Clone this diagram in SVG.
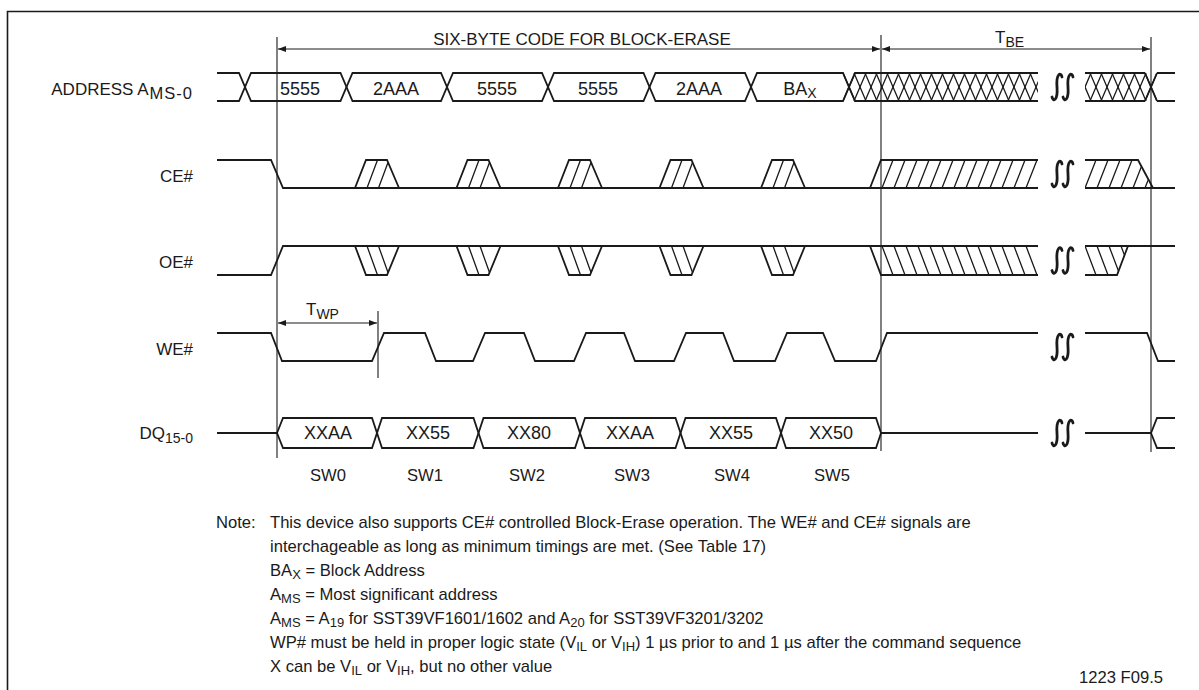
<svg xmlns="http://www.w3.org/2000/svg" width="1199" height="690" viewBox="0 0 1199 690">
<style>
.sig{fill:none;stroke:#1a1a1a;stroke-width:1.8;stroke-linejoin:miter}
.hat{fill:none;stroke:#1a1a1a;stroke-width:1.3}
.ref{fill:none;stroke:#1a1a1a;stroke-width:1.1}
.arr{fill:none;stroke:#1a1a1a;stroke-width:1;marker-start:url(#ah);marker-end:url(#ah)}
.brk{fill:none;stroke:#1a1a1a;stroke-width:2.8;stroke-linecap:round}
text{font-family:"Liberation Sans",Arial,sans-serif;fill:#1a1a1a}
.lbl{font-size:17px}
.val{font-size:18px;text-anchor:middle}
.note{font-size:16.6px}
.sub{font-size:14px}
.asub{font-size:16.5px;letter-spacing:1px}
.nsub{font-size:13px}
</style>
<defs>
<marker id="ah" viewBox="0 0 8 6" refX="8" refY="3" markerWidth="8" markerHeight="6" markerUnits="userSpaceOnUse" orient="auto-start-reverse"><path d="M0,0 L8,3 L0,6 z" fill="#1a1a1a"/></marker>
<g id="cep"><path class="sig" d="M0,28 L11,0 H32 L44,28"/><path class="hat" d="M12,28 L22.5,0 M23.5,28 L33,2.5"/></g>
<g id="oep"><path class="sig" d="M0,0 L11,29 H32 L44,0"/><path class="hat" d="M12,0 L22.5,29 M23.5,0 L33,26.5"/></g>
<path id="ss" class="brk" d="M-5,10 C-4,15 1,14 0,0 C-1,-14 4,-15 5,-10"/>
<clipPath id="cA1"><rect x="843" y="70" width="195" height="34"/></clipPath>
<clipPath id="cA2"><rect x="1085" y="70" width="72" height="34"/></clipPath>
<clipPath id="cC1"><rect x="870" y="157" width="168" height="34"/></clipPath>
<clipPath id="cC2"><polygon points="1085,158 1137,158 1152,189 1085,189"/></clipPath>
<clipPath id="cO1"><rect x="870" y="243" width="168" height="35"/></clipPath>
<clipPath id="cO2"><polygon points="1085,245 1129,245 1117.5,276 1085,276"/></clipPath>
</defs>
<rect width="1199" height="690" fill="#fff"/>
<path id="frame" d="M7.5,700 V11.5 H1199" fill="none" stroke="#1a1a1a" stroke-width="1.6"/>

<g id="connectors">
<path class="ref" d="M277,37 V458 M881,35 V451 M1151,37 V452 M378,311 V378"/>
<line class="arr" x1="278" y1="49" x2="880" y2="49"/>
<line class="arr" x1="882" y1="49" x2="1150" y2="49"/>
<line class="arr" x1="278" y1="323" x2="377" y2="323"/>
</g>

<g id="header">
<text class="lbl" x="582" y="45" text-anchor="middle">SIX-BYTE CODE FOR BLOCK-ERASE</text>
<text class="lbl" x="995" y="43">T<tspan class="sub" dy="4">BE</tspan></text>
<text class="lbl" x="306" y="315">T<tspan class="sub" dy="4">WP</tspan></text>
</g>

<g id="address">
<text class="lbl" x="193" y="95" text-anchor="end">ADDRESS A<tspan class="asub" dx="1" dy="4">MS-0</tspan></text>
<path class="sig" d="M217,73 H239 L251,101 H340.5 L352.5,73 H441 L453,101 H542 L554,73 H643.5 L655.5,101 H745 L757,73 H843 L855,101 H1038"/>
<path class="sig" d="M217,101 H239 L251,73 H340.5 L352.5,101 H441 L453,73 H542 L554,101 H643.5 L655.5,73 H745 L757,101 H843 L855,73 H1038"/>
<g clip-path="url(#cA1)">
<path class="hat" d="M843,73 l12,28 m-1,-28 l12,28 m-1,-28 l12,28 m-1,-28 l12,28 m-1,-28 l12,28 m-1,-28 l12,28 m-1,-28 l12,28 m-1,-28 l12,28 m-1,-28 l12,28 m-1,-28 l12,28 m-1,-28 l12,28 m-1,-28 l12,28 m-1,-28 l12,28 m-1,-28 l12,28 m-1,-28 l12,28 m-1,-28 l12,28 m-1,-28 l12,28 m-1,-28 l12,28"/>
<path class="hat" d="M843,101 l12,-28 m-1,28 l12,-28 m-1,28 l12,-28 m-1,28 l12,-28 m-1,28 l12,-28 m-1,28 l12,-28 m-1,28 l12,-28 m-1,28 l12,-28 m-1,28 l12,-28 m-1,28 l12,-28 m-1,28 l12,-28 m-1,28 l12,-28 m-1,28 l12,-28 m-1,28 l12,-28 m-1,28 l12,-28 m-1,28 l12,-28 m-1,28 l12,-28 m-1,28 l12,-28"/>
</g>
<path class="sig" d="M1085,73 H1145 M1085,101 H1145 M1157,73 H1175 M1157,101 H1175"/>
<g clip-path="url(#cA2)">
<path class="hat" d="M1079,73 l12,28 m-1,-28 l12,28 m-1,-28 l12,28 m-1,-28 l12,28 m-1,-28 l12,28 m-1,-28 l12,28 m-1,-28 l12,28"/>
<path class="hat" d="M1079,101 l12,-28 m-1,28 l12,-28 m-1,28 l12,-28 m-1,28 l12,-28 m-1,28 l12,-28 m-1,28 l12,-28 m-1,28 l12,-28"/>
</g>
<path class="sig" d="M1145,73 L1157,101 M1145,101 L1157,73"/>
<use href="#ss" x="1057" y="87"/><use href="#ss" x="1068" y="87"/>
<text class="val" x="300" y="95">5555</text>
<text class="val" x="396" y="95">2AAA</text>
<text class="val" x="497" y="95">5555</text>
<text class="val" x="598" y="95">5555</text>
<text class="val" x="699" y="95">2AAA</text>
<text class="val" x="800" y="95">BA<tspan class="sub" dy="3">X</tspan></text>
</g>

<g id="ce">
<text class="lbl" x="193" y="182" text-anchor="end">CE#</text>
<path class="sig" d="M217,160 H271 L283,188 H1038 M1085,188 H1175"/>
<use href="#cep" x="355" y="160"/><use href="#cep" x="456.5" y="160"/><use href="#cep" x="558" y="160"/><use href="#cep" x="659.5" y="160"/><use href="#cep" x="761" y="160"/>
<path class="sig" d="M870,188 L881,160 H1038"/>
<g clip-path="url(#cC1)"><path class="hat" d="M882,188 l11,-28 m1,28 l11,-28 m1,28 l11,-28 m1,28 l11,-28 m1,28 l11,-28 m1,28 l11,-28 m1,28 l11,-28 m1,28 l11,-28 m1,28 l11,-28 m1,28 l11,-28 m1,28 l11,-28 m1,28 l11,-28 m1,28 l11,-28 m1,28 l11,-28"/></g>
<path class="sig" d="M1085,160 H1138 L1153,188"/>
<g clip-path="url(#cC2)"><path class="hat" d="M1085,188 l11,-28 m1,28 l11,-28 m1,28 l11,-28 m1,28 l11,-28 m1,28 l11,-28 m1,28 l11,-28"/></g>
<use href="#ss" x="1057" y="174"/><use href="#ss" x="1068" y="174"/>
</g>

<g id="oe">
<text class="lbl" x="193" y="268" text-anchor="end">OE#</text>
<path class="sig" d="M217,275 H271 L283,246 H1038 M1085,246 H1175"/>
<use href="#oep" x="355" y="246"/><use href="#oep" x="456.5" y="246"/><use href="#oep" x="558" y="246"/><use href="#oep" x="659.5" y="246"/><use href="#oep" x="761" y="246"/>
<path class="sig" d="M870,246 L881,275 H1038"/>
<g clip-path="url(#cO1)"><path class="hat" d="M882,246 l11,29 m1,-29 l11,29 m1,-29 l11,29 m1,-29 l11,29 m1,-29 l11,29 m1,-29 l11,29 m1,-29 l11,29 m1,-29 l11,29 m1,-29 l11,29 m1,-29 l11,29 m1,-29 l11,29 m1,-29 l11,29 m1,-29 l11,29 m1,-29 l11,29"/></g>
<path class="sig" d="M1085,275 H1117 L1128,246"/>
<g clip-path="url(#cO2)"><path class="hat" d="M1085,246 l11,29 m1,-29 l11,29 m1,-29 l11,29 m1,-29 l11,29"/></g>
<use href="#ss" x="1057" y="260.5"/><use href="#ss" x="1068" y="260.5"/>
</g>

<g id="we">
<text class="lbl" x="193" y="355" text-anchor="end">WE#</text>
<path class="sig" d="M217,333 H271 L282,361 H372 L384,333 H425 L436,361 H473 L485,333 H524 L535,361 H574 L586,333 H624 L635,361 H674 L686,333 H723 L734,361 H775 L787,333 H823 L835,361 H876 L887,333 H1038 M1085,333 H1147 L1158,361 H1175"/>
<use href="#ss" x="1057" y="347"/><use href="#ss" x="1068" y="347"/>
</g>

<g id="dq">
<text class="lbl" x="193" y="439" text-anchor="end">DQ<tspan class="sub" dy="4">15-0</tspan></text>
<path class="sig" d="M217,433 H277 M881,433 H1038 M1085,433 H1151 L1157,418 H1175 M1151,433 L1157,448 H1175"/>
<path class="sig" d="M277,433 L283,418 H372 L382,448 H473.5 L483.5,418 H575 L585,448 H675.5 L685.5,418 H776 L786,448 H876 L881,433"/>
<path class="sig" d="M277,433 L283,448 H372 L382,418 H473.5 L483.5,448 H575 L585,418 H675.5 L685.5,448 H776 L786,418 H876 L881,433"/>
<use href="#ss" x="1057" y="433"/><use href="#ss" x="1068" y="433"/>
<text class="val" x="328" y="439">XXAA</text>
<text class="val" x="428" y="439">XX55</text>
<text class="val" x="529" y="439">XX80</text>
<text class="val" x="630" y="439">XXAA</text>
<text class="val" x="731" y="439">XX55</text>
<text class="val" x="831" y="439">XX50</text>
</g>

<g id="steps">
<text class="note" x="328" y="481" text-anchor="middle">SW0</text>
<text class="note" x="425" y="481" text-anchor="middle">SW1</text>
<text class="note" x="527" y="481" text-anchor="middle">SW2</text>
<text class="note" x="632" y="481" text-anchor="middle">SW3</text>
<text class="note" x="732" y="481" text-anchor="middle">SW4</text>
<text class="note" x="832" y="481" text-anchor="middle">SW5</text>
</g>

<g id="notes">
<text class="note" x="216" y="528">Note:</text>
<text class="note" x="270" y="528">This device also supports CE# controlled Block-Erase operation. The WE# and CE# signals are</text>
<text class="note" x="270" y="552">interchageable as long as minimum timings are met. (See Table 17)</text>
<text class="note" x="270" y="576">BA<tspan class="nsub" dy="3">X</tspan><tspan dy="-3"> = Block Address</tspan></text>
<text class="note" x="270" y="600">A<tspan class="nsub" dy="3">MS</tspan><tspan dy="-3"> = Most significant address</tspan></text>
<text class="note" x="270" y="624">A<tspan class="nsub" dy="3">MS</tspan><tspan dy="-3"> = A</tspan><tspan class="nsub" dy="3">19</tspan><tspan dy="-3"> for SST39VF1601/1602 and A</tspan><tspan class="nsub" dy="3">20</tspan><tspan dy="-3"> for SST39VF3201/3202</tspan></text>
<text class="note" x="270" y="648">WP# must be held in proper logic state (V<tspan class="nsub" dy="3">IL</tspan><tspan dy="-3"> or V</tspan><tspan class="nsub" dy="3">IH</tspan><tspan dy="-3">) 1 µs prior to and 1 µs after the command sequence</tspan></text>
<text class="note" x="270" y="672">X can be V<tspan class="nsub" dy="3">IL</tspan><tspan dy="-3"> or V</tspan><tspan class="nsub" dy="3">IH</tspan><tspan dy="-3">, but no other value</tspan></text>
<text class="note" x="1163" y="683" text-anchor="end">1223 F09.5</text>
</g>
</svg>
